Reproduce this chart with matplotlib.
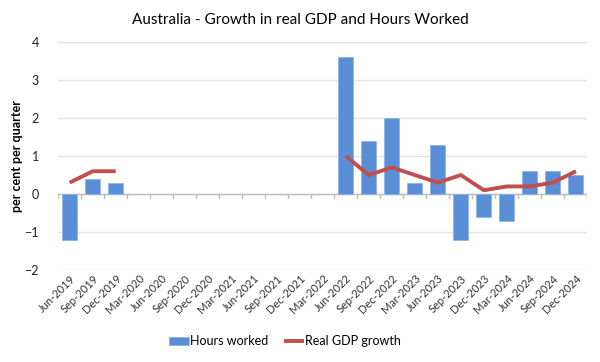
import numpy as np
import matplotlib
matplotlib.use("Agg")
import matplotlib.pyplot as plt

plt.rcParams['font.family'] = ['Lato', 'DejaVu Sans']

quarters = ["Jun-2019", "Sep-2019", "Dec-2019", "Mar-2020", "Jun-2020", "Sep-2020",
            "Dec-2020", "Mar-2021", "Jun-2021", "Sep-2021", "Dec-2021", "Mar-2022",
            "Jun-2022", "Sep-2022", "Dec-2022", "Mar-2023", "Jun-2023", "Sep-2023",
            "Dec-2023", "Mar-2024", "Jun-2024", "Sep-2024", "Dec-2024"]
nan = np.nan
hours_worked = [-1.2, 0.4, 0.3, nan, nan, nan, nan, nan, nan, nan, nan, nan,
                3.6, 1.4, 2.0, 0.3, 1.3, -1.2, -0.6, -0.7, 0.6, 0.6, 0.5]
gdp_growth = [0.3, 0.6, 0.6, nan, nan, nan, nan, nan, nan, nan, nan, nan,
              1.0, 0.5, 0.7, 0.5, 0.3, 0.5, 0.1, 0.2, 0.2, 0.3, 0.6]

fig = plt.figure(figsize=(6, 3.62), dpi=100)
ax = fig.add_axes([0.097, 0.254, 0.882, 0.63])

x = np.arange(len(quarters))
hw = np.array(hours_worked)
ok = ~np.isnan(hw)
bars = ax.bar(x[ok], hw[ok], width=0.65, color='#5A8ED6',
              edgecolor='#8FB4E6', linewidth=0.6, label='Hours worked', zorder=2)
line, = ax.plot(x, gdp_growth, color='#C0504D', linewidth=2.8, label='Real GDP growth',
                zorder=3, solid_capstyle='butt')

ax.set_xlim(-0.5, len(quarters) - 0.5)
ax.set_ylim(-2, 4)
ax.set_yticks(range(-2, 5))
ax.yaxis.grid(True, color='#E4E4E4', linewidth=1)
ax.set_axisbelow(True)
for s in ax.spines.values():
    s.set_visible(False)

# zero line with category ticks
ax.axhline(0, color='#BFBFBF', linewidth=1, zorder=1)
for b in np.arange(-0.5, len(quarters), 1):
    ax.plot([b, b], [0, -0.1], color='#BFBFBF', linewidth=1, zorder=1)

ax.set_xticks(x)
ax.set_xticklabels(quarters, rotation=45, ha='right', rotation_mode='anchor',
                   fontsize=8, color='#333333')
ax.tick_params(axis='x', length=0, pad=2)
ax.tick_params(axis='y', length=0, labelsize=9, colors='#222222', pad=14)
ax.set_ylabel('per cent per quarter', fontsize=9, fontweight='bold')
ax.yaxis.set_label_coords(-0.066, 0.5)

fig.text(0.5, 0.945, 'Australia - Growth in real GDP and Hours Worked',
         ha='center', va='center', fontsize=11)

fig.legend([bars, line], ['Hours worked', 'Real GDP growth'],
           loc='center', bbox_to_anchor=(0.475, 0.057), ncol=2, frameon=False,
           fontsize=9, handlelength=1.6, handleheight=0.6, handletextpad=0.1,
           columnspacing=1.2)

fig.savefig('out.png', dpi=100)
